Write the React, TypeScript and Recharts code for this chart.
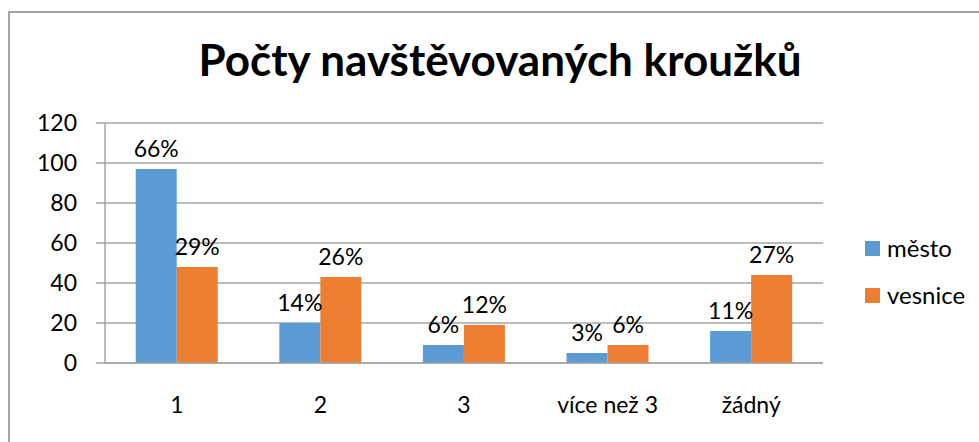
import { Bar, BarChart, CartesianGrid, LabelList, XAxis, YAxis } from "recharts"

// hodnoty
const categories = ["1", "2", "3", "více než 3", "žádný"]
const mesto = [97, 20, 9, 5, 16]
const vesnice = [48, 43, 19, 9, 44]
const mestoPct = ["66%", "14%", "6%", "3%", "11%"]
const vesnicePct = ["29%", "26%", "12%", "6%", "27%"]
const yTicks = [0, 20, 40, 60, 80, 100, 120]
const boundaryTicks = [0, 1, 2, 3, 4, 5]

const seriesNames = ["město", "vesnice"]
const colors = ["#5B9BD5", "#ED7D31"]

const data = categories.map((name, i) => ({
  name,
  mesto: mesto[i],
  vesnice: vesnice[i],
  mestoPct: mestoPct[i],
  vesnicePct: vesnicePct[i],
}))

const font = "Lato, 'Noto Sans', sans-serif"
const grey = "#a6a6a6"
const fs = 23

export default function App() {
  return (
    <div style={{ position: "fixed", left: 0, top: 0, width: 979, height: 442, background: "#fff", fontFamily: font }}>
      <div
        style={{
          position: "absolute",
          left: 8,
          top: 11,
          width: 971,
          height: 431,
          borderTop: `2px solid ${grey}`,
          borderLeft: `2px solid ${grey}`,
          boxSizing: "border-box",
        }}
      />
      <div
        style={{
          position: "absolute",
          left: 0,
          width: 1000,
          top: 34,
          textAlign: "center",
          fontSize: 44,
          fontWeight: 700,
          lineHeight: "50px",
          color: "#000",
        }}
      >
        Počty navštěvovaných kroužků
      </div>

      <div style={{ position: "absolute", left: 0, top: 0 }}>
        <BarChart
          width={979}
          height={442}
          data={data}
          margin={{ top: 123, right: 156, bottom: 0, left: 0 }}
          barCategoryGap="21.4%"
          barGap={0}
        >
          <CartesianGrid vertical={false} stroke={grey} strokeWidth={1.5} />
          <XAxis
            xAxisId="b"
            type="number"
            domain={[0, 5]}
            ticks={boundaryTicks}
            height={0}
            axisLine={false}
            tickLine={{ stroke: grey, strokeWidth: 1.5 }}
            tickSize={8}
            tickFormatter={() => ""}
          />
          <XAxis
            dataKey="name"
            height={79}
            axisLine={{ stroke: grey, strokeWidth: 1.5 }}
            tickLine={false}
            tickSize={0}
            tickMargin={34}
            tick={{ fill: "#000", fontSize: fs, fontFamily: font }}
            interval={0}
          />
          <YAxis
            width={105}
            domain={[0, 120]}
            ticks={yTicks}
            axisLine={{ stroke: grey, strokeWidth: 1.5 }}
            tickLine={{ stroke: grey, strokeWidth: 1.5 }}
            tickSize={9}
            tickMargin={19}
            tick={{ fill: "#000", fontSize: fs, fontFamily: font }}
          />
          <Bar dataKey="mesto" name={seriesNames[0]} fill={colors[0]} isAnimationActive={false}>
            <LabelList dataKey="mestoPct" position="top" offset={12} fill="#000" fontSize={fs} fontFamily={font} />
          </Bar>
          <Bar dataKey="vesnice" name={seriesNames[1]} fill={colors[1]} isAnimationActive={false}>
            <LabelList dataKey="vesnicePct" position="top" offset={12} fill="#000" fontSize={fs} fontFamily={font} />
          </Bar>
        </BarChart>
      </div>

      {seriesNames.map((s, i) => (
        <div key={s} style={{ position: "absolute", left: 865, top: 234 + i * 47, height: 28, display: "flex", alignItems: "center" }}>
          <div style={{ width: 15, height: 15, background: colors[i] }} />
          <span style={{ marginLeft: 7, fontSize: 24, color: "#000", lineHeight: "28px" }}>{s}</span>
        </div>
      ))}
    </div>
  )
}
